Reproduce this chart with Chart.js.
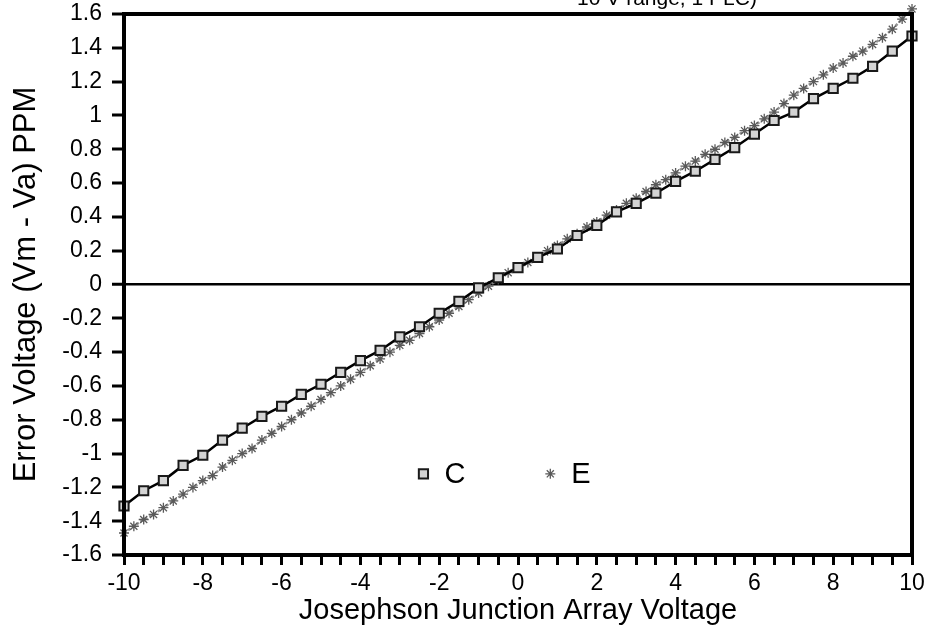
<!DOCTYPE html>
<html>
<head>
<meta charset="utf-8">
<script src="https://cdn.jsdelivr.net/npm/chart.js@4.4.1/dist/chart.umd.min.js"></script>
<style>
    html, body { margin: 0; padding: 0; background: #fff; }
    #wrap { width: 930px; height: 631px; }
</style>
</head>
<body>
<div id="wrap"><canvas id="chart" width="930" height="631"></canvas></div>
<script>
// series C, read every 0.5 V
const cVoltage = [-10, -9.5, -9, -8.5, -8, -7.5, -7, -6.5, -6, -5.5, -5, -4.5, -4, -3.5, -3, -2.5, -2, -1.5, -1, -0.5,
    0, 0.5, 1, 1.5, 2, 2.5, 3, 3.5, 4, 4.5, 5, 5.5, 6, 6.5, 7, 7.5, 8, 8.5, 9, 9.5, 10];
const cError = [-1.31, -1.22, -1.16, -1.07, -1.01, -0.92, -0.85, -0.78, -0.72, -0.65, -0.59, -0.52, -0.45, -0.39, -0.31, -0.25, -0.17, -0.10, -0.02, 0.04,
    0.10, 0.16, 0.21, 0.29, 0.35, 0.43, 0.48, 0.54, 0.61, 0.67, 0.74, 0.81, 0.89, 0.97, 1.02, 1.10, 1.16, 1.22, 1.29, 1.38, 1.47];

// series E, read every 0.25 V
const eVoltage = [-10, -9.75, -9.5, -9.25, -9, -8.75, -8.5, -8.25, -8, -7.75, -7.5, -7.25, -7, -6.75, -6.5, -6.25,
    -6, -5.75, -5.5, -5.25, -5, -4.75, -4.5, -4.25, -4, -3.75, -3.5, -3.25, -3, -2.75, -2.5, -2.25,
    -2, -1.75, -1.5, -1.25, -1, -0.75, -0.5, -0.25, 0, 0.25, 0.5, 0.75, 1, 1.25, 1.5, 1.75,
    2, 2.25, 2.5, 2.75, 3, 3.25, 3.5, 3.75, 4, 4.25, 4.5, 4.75, 5, 5.25, 5.5, 5.75,
    6, 6.25, 6.5, 6.75, 7, 7.25, 7.5, 7.75, 8, 8.25, 8.5, 8.75, 9, 9.25, 9.5, 9.75, 10];
const eError = [-1.47, -1.43, -1.39, -1.36, -1.32, -1.28, -1.24, -1.20, -1.16, -1.13, -1.08, -1.04, -1.00, -0.97, -0.92, -0.88,
    -0.84, -0.80, -0.76, -0.72, -0.68, -0.64, -0.60, -0.56, -0.52, -0.48, -0.44, -0.40, -0.36, -0.33, -0.29, -0.25,
    -0.21, -0.17, -0.13, -0.09, -0.05, -0.01, 0.03, 0.07, 0.10, 0.13, 0.16, 0.20, 0.23, 0.27, 0.30, 0.34,
    0.37, 0.41, 0.44, 0.48, 0.51, 0.55, 0.59, 0.62, 0.66, 0.70, 0.73, 0.77, 0.80, 0.84, 0.87, 0.91,
    0.94, 0.98, 1.02, 1.07, 1.12, 1.16, 1.20, 1.24, 1.28, 1.31, 1.35, 1.38, 1.42, 1.46, 1.51, 1.57, 1.63];

const seriesNames = ['C', 'E'];
const chartTitle = '10 V range, 1 PLC)';
const xTitle = 'Josephson Junction Array Voltage';
const yTitle = 'Error Voltage (Vm - Va) PPM';

const FONT = '"Liberation Sans", Arial, Helvetica, sans-serif';

function toPoints(xs, ys) {
    return xs.map((x, i) => ({ x, y: ys[i] }));
}

// heavy frame around the plot, like the original's box
const framePlugin = {
    id: 'frame',
    afterDatasetsDraw(chart) {
        const { ctx, chartArea } = chart;
        ctx.save();
        ctx.strokeStyle = '#000';
        ctx.lineWidth = 4;
        ctx.strokeRect(chartArea.left, chartArea.top, chartArea.right - chartArea.left, chartArea.bottom - chartArea.top);
        ctx.restore();
    }
};

// legend inside the plot, placed in data units
const innerLegend = {
    id: 'innerLegend',
    afterDraw(chart) {
        const { ctx, scales } = chart;
        const items = [
            { ds: chart.data.datasets[0], x: -2.4, y: -1.12 },
            { ds: chart.data.datasets[1], x: 0.82, y: -1.12 }
        ];
        ctx.save();
        for (const item of items) {
            const px = scales.x.getPixelForValue(item.x);
            const py = scales.y.getPixelForValue(item.y);
            ctx.strokeStyle = item.ds.pointBorderColor;
            ctx.fillStyle = item.ds.pointBackgroundColor;
            ctx.lineWidth = item.ds.pointBorderWidth;
            Chart.helpers.drawPoint(ctx, {
                pointStyle: item.ds.pointStyle,
                radius: item.ds.pointRadius,
                rotation: 0,
                borderWidth: item.ds.pointBorderWidth
            }, px, py);
            ctx.fillStyle = '#000';
            ctx.font = '29px ' + FONT;
            ctx.textBaseline = 'middle';
            ctx.textAlign = 'left';
            ctx.fillText(item.ds.label, px + 21, py + 1);
        }
        ctx.restore();
    }
};

// the title is cut off at the top edge of the original
const clippedTitle = {
    id: 'clippedTitle',
    afterDraw(chart) {
        const { ctx } = chart;
        ctx.save();
        ctx.fillStyle = '#000';
        ctx.font = '21px ' + FONT;
        ctx.textAlign = 'center';
        ctx.textBaseline = 'alphabetic';
        ctx.fillText(chartTitle, 667, 5);
        ctx.restore();
    }
};

new Chart(document.getElementById('chart'), {
    type: 'line',
    data: {
        datasets: [
            {
                label: seriesNames[0],
                data: toPoints(cVoltage, cError),
                borderColor: '#000',
                borderWidth: 2.5,
                pointStyle: 'rect',
                pointRadius: 6.5,
                pointBorderWidth: 2,
                pointBorderColor: '#1a1a1a',
                pointBackgroundColor: '#d4d4d4',
                tension: 0,
                clip: false
            },
            {
                label: seriesNames[1],
                data: toPoints(eVoltage, eError),
                borderColor: '#939393',
                borderWidth: 2.5,
                borderDash: [3, 2],
                pointStyle: 'star',
                pointRadius: 5,
                pointBorderWidth: 1.3,
                pointBorderColor: '#5a5a5a',
                pointBackgroundColor: '#5a5a5a',
                tension: 0,
                clip: false
            }
        ]
    },
    options: {
        responsive: false,
        animation: false,
        layout: {
            padding: { top: 14, right: 18, bottom: 0, left: 0 }
        },
        plugins: {
            legend: { display: false },
            tooltip: { enabled: false }
        },
        scales: {
            x: {
                type: 'linear',
                min: -10,
                max: 10,
                afterFit: (scale) => {
                    scale.height = 76;
                    scale.paddingLeft = 0;
                    scale.paddingRight = 0;
                },
                border: { display: true, width: 4, color: '#000' },
                grid: {
                    drawOnChartArea: false,
                    tickLength: 10,
                    tickWidth: 3,
                    tickColor: '#000'
                },
                ticks: {
                    stepSize: 0.5,
                    autoSkip: false,
                    maxRotation: 0,
                    color: '#000',
                    padding: 5,
                    font: { family: FONT, size: 23 },
                    callback: (v) => (Math.abs(v % 2) < 1e-9 ? String(v) : '')
                },
                title: {
                    display: true,
                    text: xTitle,
                    color: '#000',
                    font: { family: FONT, size: 29 },
                    padding: { top: 0, bottom: 3 }
                }
            },
            y: {
                type: 'linear',
                min: -1.6,
                max: 1.6,
                afterFit: (scale) => {
                    scale.width = 124;
                    scale.paddingTop = 0;
                    scale.paddingBottom = 0;
                },
                border: { display: true, width: 4, color: '#000' },
                grid: {
                    drawOnChartArea: true,
                    color: (c) => (c.tick && Math.abs(c.tick.value) < 1e-9 ? '#000' : 'rgba(0,0,0,0)'),
                    lineWidth: (c) => (c.tick && Math.abs(c.tick.value) < 1e-9 ? 2.5 : 0),
                    tickLength: 12,
                    tickWidth: 3,
                    tickColor: '#000'
                },
                ticks: {
                    stepSize: 0.2,
                    color: '#000',
                    padding: 10,
                    font: { family: FONT, size: 23 },
                    callback: (v) => Number(v.toFixed(1)).toString()
                },
                title: {
                    display: true,
                    text: yTitle,
                    color: '#000',
                    font: { family: FONT, size: 31 },
                    padding: { top: 8, bottom: 0 }
                }
            }
        }
    },
    plugins: [framePlugin, innerLegend, clippedTitle]
});
</script>
</body>
</html>
